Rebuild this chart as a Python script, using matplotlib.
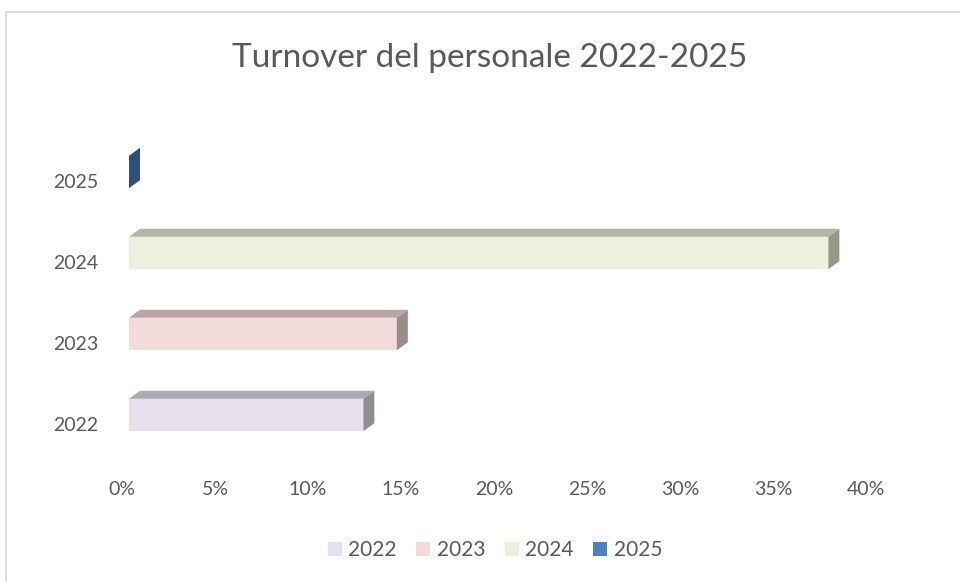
import matplotlib
matplotlib.use("Agg")
import matplotlib.pyplot as plt
from matplotlib.patches import Polygon, Rectangle, Patch
from matplotlib.transforms import ScaledTranslation

plt.rcParams["font.family"] = ["Lato", "DejaVu Sans"]

# data
years = ["2022", "2023", "2024", "2025"]
turnover = [0.126, 0.144, 0.376, 0.0]
xticks = [0, 0.05, 0.10, 0.15, 0.20, 0.25, 0.30, 0.35, 0.40]
xticklabels = ["0%", "5%", "10%", "15%", "20%", "25%", "30%", "35%", "40%"]
title = "Turnover del personale 2022-2025"

# front / top / side face colours per year
front_col = ["#E5E0EC", "#F2DCDB", "#EBF1DE", "#4F81BD"]
top_col = ["#ADAAB2", "#B8A6A5", "#B2B6A8", "#3A5F8E"]
side_col = ["#8F8C93", "#9B8B8A", "#949889", "#2E5079"]
text_col = "#595959"

W, H, DPI = 960, 582, 100
fig = plt.figure(figsize=(W / DPI, H / DPI), dpi=DPI)

# light chart border
fig.patches.append(Rectangle((6 / W, -0.01), 1.0, 1 - 12 / H + 0.01,
                             transform=fig.transFigure, fill=False,
                             edgecolor="#D9D9D9", linewidth=1.2))

# plot area in pixels (from top): 0% at x=129, 40% at x=873
left, right = 129, 873
top, bottom = 130, 460
ax = fig.add_axes([left / W, (H - bottom) / H, (right - left) / W, (bottom - top) / H])
ax.set_xlim(0, 0.40)
ax.set_ylim((415 - bottom) / 81, (415 - top) / 81)

bh = 0.40                 # bar height (category units)
dx = 11 / 1860            # depth offset in x (data units)
dy = 8 / 81               # depth offset in y

for i, (yr, v) in enumerate(zip(years, turnover)):
    y0, y1 = i - bh / 2, i + bh / 2
    if v > 0:
        ax.add_patch(Rectangle((0, y0), v, bh, facecolor=front_col[i], edgecolor="none"))
        ax.add_patch(Polygon([(0, y1), (v, y1), (v + dx, y1 + dy), (dx, y1 + dy)],
                             closed=True, facecolor=top_col[i], edgecolor="none"))
    ax.add_patch(Polygon([(v, y0), (v + dx, y0 + dy), (v + dx, y1 + dy), (v, y1)],
                         closed=True, facecolor=side_col[i], edgecolor="none"))

ax.set_xticks(xticks)
ax.set_xticklabels(xticklabels)
ax.set_yticks(range(len(years)))
ax.set_yticklabels(years)
ax.tick_params(axis="x", length=0, pad=15, labelsize=14, labelcolor=text_col)
ax.tick_params(axis="y", length=0, pad=22, labelsize=14, labelcolor=text_col)
for lab in ax.get_xticklabels():
    lab.set_transform(lab.get_transform() + ScaledTranslation(-7 / DPI, 0, fig.dpi_scale_trans))
for lab in ax.get_yticklabels():
    lab.set_transform(lab.get_transform() + ScaledTranslation(0, -9 / DPI, fig.dpi_scale_trans))
for s in ax.spines.values():
    s.set_visible(False)
ax.patch.set_alpha(0)

fig.text(490 / W, 1 - 58 / H, title, ha="center", va="center",
         fontsize=24, color=text_col)

handles = [Patch(facecolor=c, edgecolor="none") for c in front_col]
fig.legend(handles, years, loc="center", bbox_to_anchor=(495 / W, 1 - 550 / H),
           ncol=4, frameon=False, fontsize=15, labelcolor=text_col,
           handlelength=0.67, handleheight=0.67, handletextpad=0.3,
           columnspacing=0.95)

fig.savefig("out.png", dpi=DPI)
